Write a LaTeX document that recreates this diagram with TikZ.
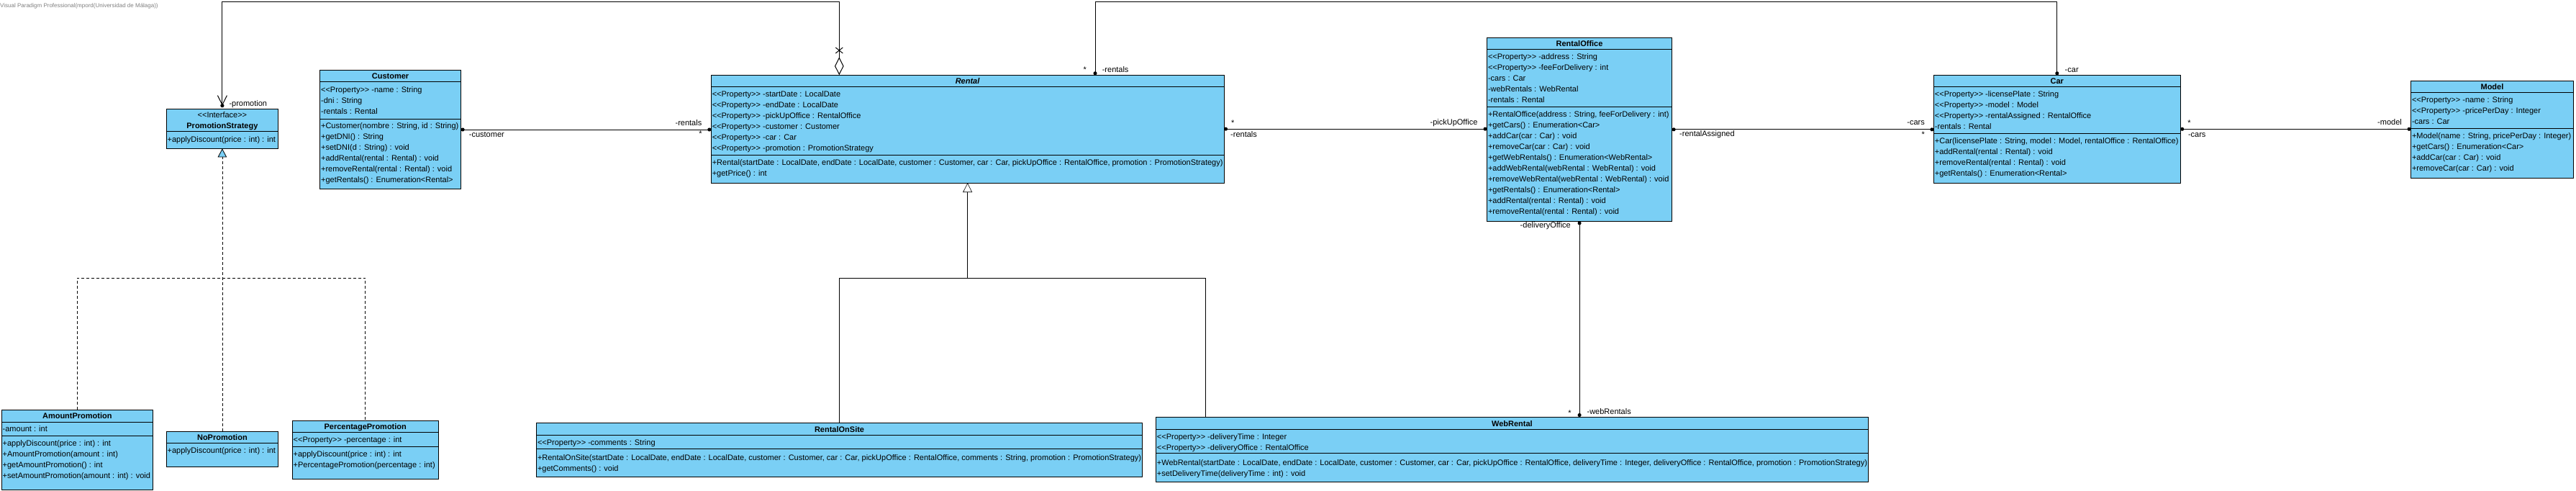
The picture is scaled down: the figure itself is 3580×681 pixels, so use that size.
\documentclass[tikz,border=0pt]{standalone}
\usepackage{fontspec}
\setmainfont{Liberation Sans}
\usetikzlibrary{shapes.multipart}
\usetikzlibrary{arrows.meta}
\definecolor{umlblue}{RGB}{122,207,245}
\definecolor{vpgray}{RGB}{128,128,128}
\newcommand{\stereo}[1]{<{}<#1>{}>}
\newcommand{\gaptop}[1]{\rule[-3.5pt]{0pt}{\dimexpr15pt+#1pt\relax}}
\newcommand{\gapbot}[1]{\rule[\dimexpr-3.5pt-#1pt\relax]{0pt}{\dimexpr15pt+#1pt\relax}}

\begin{document}
\begin{tikzpicture}[x=1pt,y=-1pt,
	umlclass/.style={rectangle split,rectangle split parts=3,rectangle split part align={center,left,left},draw,fill=umlblue,line width=1pt,inner xsep=1.5pt,inner ysep=0pt,outer sep=0pt,anchor=north west,align=left,font=\fontsize{11}{15}\selectfont},
	role/.style={inner sep=0pt,font=\fontsize{11}{13}\selectfont},
	assoc/.style={line width=1pt,{Circle[length=5pt]}-{Circle[length=5pt]}},
	inherit/.style={line width=0.6pt},
	realize/.style={line width=0.8pt,dash pattern=on 4pt off 3pt}]

	\useasboundingbox (0,0) rectangle (3580,681);

	\node[role,anchor=mid west,font=\fontsize{8}{10}\selectfont,text=vpgray](vp) at (0,8) {Visual Paradigm Professional(mpord(Universidad de Málaga))};

	\node[umlclass,rectangle split parts=2,rectangle split part align={center,left},align=center,minimum width=155.4pt](strategy) at (231.2,151) {\gaptop{0}\stereo{Interface}\\\textbf{PromotionStrategy}\gapbot{0}\nodepart{second}\gaptop{3.2}+applyDiscount(price : int) : int\gapbot{5.1}};
	\node[umlclass,minimum width=196pt](customer) at (444.6,97.7) {\textbf{Customer}\gaptop{0}\gapbot{0}\nodepart{second}\gaptop{2.5}\stereo{Property} -name : String\\-dni : String\\-rentals : Rental\gapbot{3.1}\nodepart{third}\gaptop{0.9}+Customer(nombre : String, id : String)\\+getDNI() : String\\+setDNI(d : String) : void\\+addRental(rental : Rental) : void\\+removeRental(rental : Rental) : void\\+getRentals() : Enumeration<Rental>\gapbot{5.1}};
	\node[umlclass,minimum width=712.2pt](rental) at (988.3,104.3) {\textbf{\textit{Rental}}\gaptop{0}\gapbot{0}\nodepart{second}\gaptop{2.5}\stereo{Property} -startDate : LocalDate\\\stereo{Property} -endDate : LocalDate\\\stereo{Property} -pickUpOffice : RentalOffice\\\stereo{Property} -customer : Customer\\\stereo{Property} -car : Car\\\stereo{Property} -promotion : PromotionStrategy\gapbot{1.5}\nodepart{third}\gaptop{2.5}+Rental(startDate : LocalDate, endDate : LocalDate, customer : Customer, car : Car, pickUpOffice : RentalOffice, promotion : PromotionStrategy)\\+getPrice() : int\gapbot{5.2}};
	\node[umlclass,minimum width=257.1pt](office) at (2066.5,52.3) {\textbf{RentalOffice}\gaptop{0.5}\gapbot{0}\nodepart{second}\gaptop{2.1}\stereo{Property} -address : String\\\stereo{Property} -feeForDelivery : int\\-cars : Car\\-webRentals : WebRental\\-rentals : Rental\gapbot{1.5}\nodepart{third}\gaptop{2.5}+RentalOffice(address : String, feeForDelivery : int)\\+getCars() : Enumeration<Car>\\+addCar(car : Car) : void\\+removeCar(car : Car) : void\\+getWebRentals() : Enumeration<WebRental>\\+addWebRental(webRental : WebRental) : void\\+removeWebRental(webRental : WebRental) : void\\+getRentals() : Enumeration<Rental>\\+addRental(rental : Rental) : void\\+removeRental(rental : Rental) : void\gapbot{5.5}};
	\node[umlclass,minimum width=342.8pt](car) at (2687.4,104.3) {\textbf{Car}\gaptop{0}\gapbot{0}\nodepart{second}\gaptop{2.5}\stereo{Property} -licensePlate : String\\\stereo{Property} -model : Model\\\stereo{Property} -rentalAssigned : RentalOffice\\-rentals : Rental\gapbot{1.5}\nodepart{third}\gaptop{2.5}+Car(licensePlate : String, model : Model, rentalOffice : RentalOffice)\\+addRental(rental : Rental) : void\\+removeRental(rental : Rental) : void\\+getRentals() : Enumeration<Rental>\gapbot{5.5}};
	\node[umlclass,minimum width=225.9pt](model) at (3350.5,112.3) {\textbf{Model}\gaptop{0}\gapbot{0}\nodepart{second}\gaptop{2.5}\stereo{Property} -name : String\\\stereo{Property} -pricePerDay : Integer\\-cars : Car\gapbot{1.5}\nodepart{third}\gaptop{2.5}+Model(name : String, pricePerDay : Integer)\\+getCars() : Enumeration<Car>\\+addCar(car : Car) : void\\+removeCar(car : Car) : void\gapbot{5.5}};
	\node[umlclass,minimum width=210.3pt](amount) at (2.2,569.3) {\textbf{AmountPromotion}\gaptop{0.5}\gapbot{0.2}\nodepart{second}\gaptop{1.8}-amount : int\gapbot{1.9}\nodepart{third}\gaptop{2.1}+applyDiscount(price : int) : int\\+AmountPromotion(amount : int)\\+getAmountPromotion() : int\\+setAmountPromotion(amount : int) : void\gapbot{11.5}};
	\node[umlclass,rectangle split parts=2,rectangle split part align={center,left},minimum width=155.4pt](nopromo) at (231.2,599.3) {\textbf{NoPromotion}\gaptop{0}\gapbot{0}\nodepart{second}\gaptop{2.5}+applyDiscount(price : int) : int\gapbot{14.5}};
	\node[umlclass,minimum width=203.1pt](percent) at (406.2,584.3) {\textbf{PercentagePromotion}\gaptop{0.5}\gapbot{0}\nodepart{second}\gaptop{2.1}\stereo{Property} -percentage : int\gapbot{1.5}\nodepart{third}\gaptop{2.5}+applyDiscount(price : int) : int\\+PercentagePromotion(percentage : int)\gapbot{11.5}};
	\node[umlclass,minimum width=840.8pt](onsite) at (745.5,587.3) {\textbf{RentalOnSite}\gaptop{1}\gapbot{0}\nodepart{second}\gaptop{1.9}\stereo{Property} -comments : String\gapbot{1.5}\nodepart{third}\gaptop{3.5}+RentalOnSite(startDate : LocalDate, endDate : LocalDate, customer : Customer, car : Car, pickUpOffice : RentalOffice, comments : String, promotion : PromotionStrategy)\\+getComments() : void\gapbot{4.1}};
	\node[umlclass,minimum width=988.6pt](webrental) at (1606.4,579) {\textbf{WebRental}\gaptop{1}\gapbot{0.3}\nodepart{second}\gaptop{2.2}\stereo{Property} -deliveryTime : Integer\\\stereo{Property} -deliveryOffice : RentalOffice\gapbot{0.2}\nodepart{third}\gaptop{4.8}+WebRental(startDate : LocalDate, endDate : LocalDate, customer : Customer, car : Car, pickUpOffice : RentalOffice, deliveryTime : Integer, deliveryOffice : RentalOffice, promotion : PromotionStrategy)\\+setDeliveryTime(deliveryTime : int) : void\gapbot{3.5}};

	\coordinate (roof) at (0,2.3);
	\coordinate (bar) at (0,386);
	\coordinate (agg) at ([xshift=178pt]rental.north west);
	\coordinate (ren) at ([xshift=533.7pt]rental.north west);
	\coordinate (gen) at ([xshift=69pt]webrental.north west);
	\coordinate (pdot) at ([yshift=4.3pt]strategy.north);
	\coordinate (nx) at ([yshift=34.3pt]agg);

	\draw[assoc] (customer.east) -- (customer.east -| rental.west);
	\draw[assoc] (rental.east) -- (rental.east -| office.west);
	\draw[assoc] (office.east) -- (office.east -| car.west);
	\draw[assoc] (car.east) -- (car.east -| model.west);
	\draw[assoc] (ren) -- (ren |- roof) -| (car.north);
	\draw[assoc] (office.south) -- (office.south |- webrental.north);
	\draw[line width=1pt,{Diamond[open,length=25pt,width=12.6pt]}-{Straight Barb[length=13pt,width=13pt]}] (agg) -- (agg |- roof) -| (pdot);
	\fill (pdot) circle (2.6pt);
	\draw[line width=1pt] (nx) +(-5,-4) -- +(5,4) (nx) +(-5,4) -- +(5,-4);
	\draw[inherit] (onsite.north) |- (gen |- bar) -- (gen);
	\draw[inherit,-{Triangle[open,length=13pt,width=13pt]}] (rental.south |- bar) -- (rental.south);
	\draw[realize] (amount.north) |- (percent.north |- bar) -- (percent.north);
	\draw[realize,-{Triangle[length=12pt,width=12.5pt,fill=umlblue]}] (nopromo.north) -- (strategy.south);

	\node[role,anchor=mid west](customer-end) at (651.7,187.7) {-customer};
	\node[role,anchor=mid east](rentals-a) at (975.5,171.7) {-rentals};
	\node[role,anchor=base](many-a) at (973.5,189.8) {*};
	\node[role,anchor=base](many-b) at (1713.3,174) {*};
	\node[role,anchor=mid west](rentals-b) at (1710,187.7) {-rentals};
	\node[role,anchor=mid east](pickup-end) at (2053.6,171.3) {-pickUpOffice};
	\node[role,anchor=mid west](assigned-end) at (2334,187.3) {-rentalAssigned};
	\node[role,anchor=mid east](cars-a) at (2675,171.3) {-cars};
	\node[role,anchor=base](many-c) at (2672.7,190.6) {*};
	\node[role,anchor=base](many-d) at (3042.6,174) {*};
	\node[role,anchor=mid west](cars-b) at (3040.8,187.7) {-cars};
	\node[role,anchor=mid east](model-end) at (3338,171.3) {-model};
	\node[role,anchor=base](many-e) at (1507.7,100.6) {*};
	\node[role,anchor=mid west](rentals-c) at (1531.6,97.7) {-rentals};
	\node[role,anchor=mid west](car-end) at (2869.5,97.7) {-car};
	\node[role,anchor=mid west](promotion-end) at (318.3,144.7) {-promotion};
	\node[role,anchor=mid east](delivery-end) at (2183,314.3) {-deliveryOffice};
	\node[role,anchor=base](many-f) at (2181.5,577) {*};
	\node[role,anchor=mid west](web-end) at (2205.4,573) {-webRentals};
\end{tikzpicture}
\end{document}
